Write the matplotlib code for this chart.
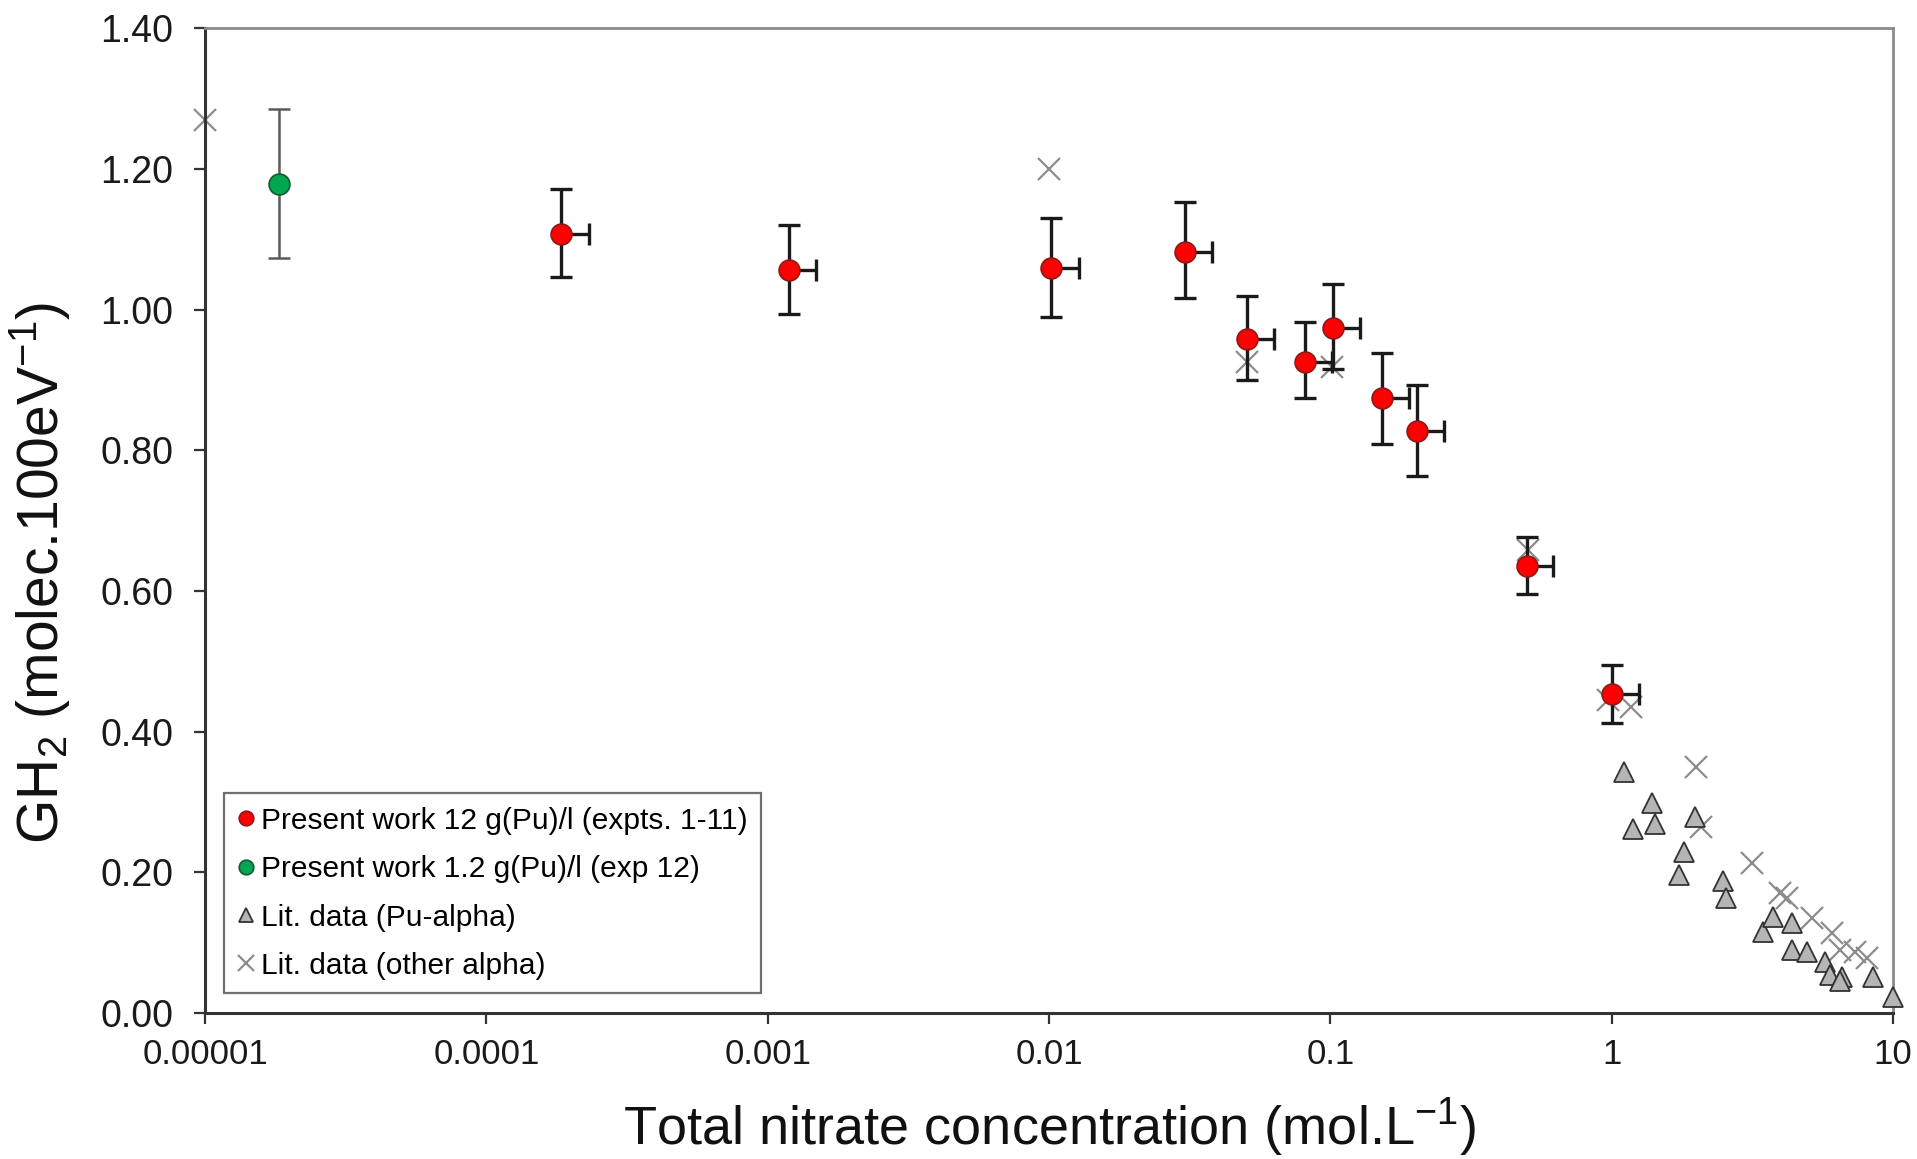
"""GH2 yield vs total nitrate concentration (Pu alpha radiolysis)."""

import matplotlib

matplotlib.use("Agg")
import matplotlib.pyplot as plt  # noqa: E402
from matplotlib.ticker import FixedLocator, FixedFormatter, NullLocator  # noqa: E402

plt.rcParams["font.family"] = ["Liberation Sans", "DejaVu Sans"]
plt.rcParams["mathtext.fontset"] = "custom"
plt.rcParams["mathtext.rm"] = "Liberation Sans"
plt.rcParams["mathtext.it"] = "Liberation Sans:italic"

# present work, 12 g(Pu)/l (expts. 1-11)
red_x = [1.84e-4, 1.19e-3, 0.0102, 0.0303, 0.0506, 0.081, 0.102, 0.152, 0.203, 0.499, 1.0]
red_y = [1.108, 1.056, 1.060, 1.082, 0.959, 0.926, 0.974, 0.874, 0.827, 0.636, 0.453]
red_top = [1.172, 1.120, 1.131, 1.153, 1.020, 0.983, 1.037, 0.938, 0.893, 0.677, 0.495]
red_bot = [1.046, 0.994, 0.990, 1.016, 0.900, 0.874, 0.915, 0.809, 0.763, 0.596, 0.413]
red_xhi = [2.31e-4, 1.48e-3, 0.0128, 0.0378, 0.063, 0.101, 0.127, 0.190, 0.253, 0.62, 1.25]

# present work, 1.2 g(Pu)/l (exp 12)
green_x = [1.83e-5]
green_y = [1.179]
green_top = [1.286]
green_bot = [1.073]

# literature, Pu-alpha
pu_x = [1.107, 1.39, 1.19, 1.42, 1.98, 1.80, 1.74, 2.49, 2.54, 3.46,
        3.75, 4.38, 4.38, 4.96, 5.74, 5.98, 6.59, 6.49, 8.51, 10.0]
pu_y = [0.342, 0.298, 0.262, 0.269, 0.279, 0.229, 0.196, 0.188, 0.163, 0.115,
        0.136, 0.128, 0.090, 0.087, 0.073, 0.054, 0.051, 0.046, 0.051, 0.023]

# literature, other alpha
oth_x = [1e-5, 0.01, 0.0506, 0.101, 0.505, 0.97, 1.17, 2.0, 2.08, 3.16,
         3.97, 4.21, 5.16, 6.08, 6.49, 7.34, 8.10]
oth_y = [1.270, 1.200, 0.925, 0.918, 0.658, 0.445, 0.435, 0.350, 0.264, 0.213,
         0.171, 0.163, 0.135, 0.114, 0.090, 0.087, 0.078]

x_ticks = [1e-5, 1e-4, 1e-3, 1e-2, 1e-1, 1, 10]
x_ticklabels = ["0.00001", "0.0001", "0.001", "0.01", "0.1", "1", "10"]
y_ticks = [0.0, 0.2, 0.4, 0.6, 0.8, 1.0, 1.2, 1.4]

fig = plt.figure(figsize=(19.17, 11.59), dpi=100)
ax = fig.add_axes([0.107, 0.126, 0.8805, 0.8495])

# literature data underneath
oth_pts, = ax.plot(oth_x, oth_y, ls="none", marker="x", ms=16, mew=1.6, color="#8c8c8c",
                   label="Lit. data (other alpha)", zorder=2, clip_on=False)
pu_pts, = ax.plot(pu_x, pu_y, ls="none", marker="^", ms=14, mfc="#b5b5b5", mec="#333333",
                  mew=1.3, label="Lit. data (Pu-alpha)", zorder=3, clip_on=False)

# error bars: vertical both ways, horizontal only to the right
yerr_lo = [y - b for y, b in zip(red_y, red_bot)]
yerr_hi = [t - y for y, t in zip(red_y, red_top)]
xerr_hi = [h - x for x, h in zip(red_x, red_xhi)]
ax.errorbar(red_x, red_y, yerr=[yerr_lo, yerr_hi], xerr=[[0] * len(red_x), xerr_hi],
            fmt="none", ecolor="#1a1a1a", elinewidth=2.4, capsize=8, capthick=2.4, zorder=4)
ax.errorbar(green_x, green_y,
            yerr=[[y - b for y, b in zip(green_y, green_bot)],
                  [t - y for y, t in zip(green_y, green_top)]],
            fmt="none", ecolor="#5a5a5a", elinewidth=1.8, capsize=8, capthick=1.8, zorder=4)

red_pts, = ax.plot(red_x, red_y, ls="none", marker="o", ms=15, mfc="#ff0000",
                   mec="#8b1a1a", mew=1.2, label="Present work 12 g(Pu)/l (expts. 1-11)", zorder=5)
green_pts, = ax.plot(green_x, green_y, ls="none", marker="o", ms=15, mfc="#00a650",
                     mec="#145a32", mew=1.2, label="Present work 1.2 g(Pu)/l (exp 12)", zorder=5)

ax.set_xscale("log")
ax.set_xlim(1e-5, 10)
ax.set_ylim(0, 1.4)
ax.xaxis.set_major_locator(FixedLocator(x_ticks))
ax.xaxis.set_major_formatter(FixedFormatter(x_ticklabels))
ax.xaxis.set_minor_locator(NullLocator())
ax.set_yticks(y_ticks)
ax.set_yticklabels([f"{v:.2f}" for v in y_ticks])
ax.tick_params(axis="both", direction="out", length=8, width=1.6, color="#333333",
               labelsize=25, pad=10, labelcolor="#1a1a1a")
ax.tick_params(axis="y", labelsize=27, pad=15)

for side in ("left", "bottom"):
    ax.spines[side].set_color("#333333")
    ax.spines[side].set_linewidth(2.2)
for side in ("top", "right"):
    ax.spines[side].set_color("#8a8a8a")
    ax.spines[side].set_linewidth(2.0)

ax.set_xlabel("Total nitrate concentration (mol.L$^{\\mathregular{-1}}$)", fontsize=39,
              labelpad=18, color="#111111")
ax.set_ylabel("GH$_{\\mathregular{2}}$ (molec.100eV$^{\\mathregular{-1}}$)", fontsize=41,
              color="#111111")
ax.yaxis.set_label_coords(-0.079, 0.447)

leg = ax.legend([red_pts, green_pts, pu_pts, oth_pts],
                [h.get_label() for h in (red_pts, green_pts, pu_pts, oth_pts)],
                loc="lower left", bbox_to_anchor=(0.011, 0.02), borderaxespad=0,
                fontsize=21.5, markerscale=0.7, handlelength=0.6, handletextpad=0.2,
                labelspacing=0.68, borderpad=0.45, fancybox=False, framealpha=1,
                edgecolor="#707070")
leg.get_frame().set_linewidth(1.6)

fig.savefig("out.png", dpi=100)
